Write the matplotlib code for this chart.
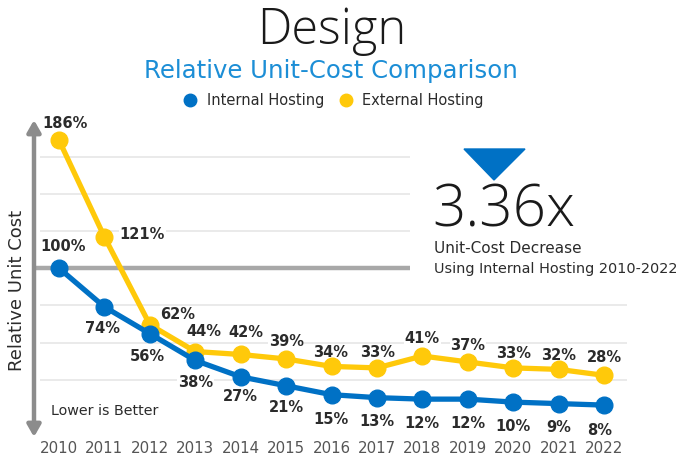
import matplotlib
matplotlib.use("Agg")
import matplotlib.pyplot as plt
from matplotlib.patches import Polygon

# data
years = list(range(2010, 2023))
internal = [100, 74, 56, 38, 27, 21, 15, 13, 12, 12, 10, 9, 8]
external = [186, 121, 62, 44, 42, 39, 34, 33, 41, 37, 33, 32, 28]
grid_short = [125, 150, 175]
grid_long = [25, 50, 75]

blue = "#0071C5"
yellow = "#FFC90A"
dark = "#2B2B2B"
W, H = 683, 459

def fx(px):
    return px / W

def fy(py):
    return 1 - py / H

fig = plt.figure(figsize=(6.83, 4.59), dpi=100)
ax = fig.add_axes([0, 0, 1, 1])
ax.set_xlim(2008.701, 2023.738)
ax.set_ylim(-28.23, 280.24)
ax.axis("off")

# grid
ax.hlines(grid_short, 2009.58, 2017.73, color="#E6E6E6", lw=1.2, zorder=0)
ax.hlines(grid_long, 2009.58, 2022.505, color="#E6E6E6", lw=1.2, zorder=0)
ax.hlines(100, 2009.45, 2017.73, color="#A8A8A8", lw=3.2, zorder=1)

# series
ax.plot(years, external, color=yellow, lw=3.8, marker="o", ms=12, zorder=3)
ax.plot(years, internal, color=blue, lw=3.8, marker="o", ms=12, zorder=4)

lab = dict(fontsize=10.5, fontweight="bold", color=dark, ha="center", va="center",
           bbox=dict(fc="white", ec="none", pad=0.5), zorder=2)

# yellow labels (offset in pixels)
ext_off = [(6, 17), (38, 2), (28, 10), (9, 20), (5, 22), (0, 17), (-1, 14), (1, 15),
           (0, 17), (0, 16), (0, 14), (0, 14), (0, 18)]
for x, v, (dx, dy) in zip(years, external, ext_off):
    ax.annotate(f"{v}%", (x, v), xytext=(dx, dy), textcoords="offset pixels", **lab)

int_off = [(4, 22), (-2, -22), (-2, -23), (0, -22), (0, -20), (0, -22), (-1, -25),
           (0, -24), (0, -24), (0, -24), (0, -24), (0, -24), (-4, -25)]
for x, v, (dx, dy) in zip(years, internal, int_off):
    ax.annotate(f"{v}%", (x, v), xytext=(dx, dy), textcoords="offset pixels", **lab)

# year labels
for x in years:
    ax.text(x, -21.5, str(x), fontsize=10.8, color="#555555", ha="center", va="center")

# vertical double arrow
ax.annotate("", xy=(fx(34), fy(120)), xytext=(fx(34), fy(437)), xycoords="figure fraction",
            textcoords="figure fraction",
            arrowprops=dict(arrowstyle="<|-|>,head_length=0.7,head_width=0.4",
                            color="#8C8C8C", lw=3.2, shrinkA=0, shrinkB=0))

fig.text(fx(17), fy(290), "Relative Unit Cost", rotation=90, fontsize=13,
         color=dark, ha="center", va="center")
fig.text(fx(51), fy(411), "Lower is Better", fontsize=10.3, color=dark, ha="left", va="center")

# titles and legend
fig.text(fx(332), fy(31), "Design", fontsize=35, fontweight="light", family="Open Sans",
         color="#1A1A1A", ha="center", va="center")
fig.text(fx(331), fy(71), "Relative Unit-Cost Comparison", fontsize=17.6, color="#1C8ED6",
         ha="center", va="center")
ax.plot([fx(190)], [fy(100)], marker="o", ms=9, color=blue, transform=fig.transFigure)
fig.text(fx(207), fy(100), "Internal Hosting", fontsize=10.5, color=dark, va="center")
ax.plot([fx(346)], [fy(100)], marker="o", ms=9, color=yellow, transform=fig.transFigure)
fig.text(fx(362), fy(100), "External Hosting", fontsize=10.5, color=dark, va="center")

# callout
tri = Polygon([(fx(464), fy(149)), (fx(525), fy(149)), (fx(494), fy(180))], closed=True,
              color=blue, transform=fig.transFigure)
fig.patches.append(tri)
fig.text(fx(432), fy(211), "3.36x", fontsize=42, fontweight="light", family="Open Sans",
         color="#1A1A1A", ha="left", va="center")
fig.text(fx(434), fy(249), "Unit-Cost Decrease", fontsize=11, color=dark, va="center")
fig.text(fx(434), fy(269), "Using Internal Hosting 2010-2022", fontsize=10.4, color=dark,
         va="center")

fig.savefig("out.png", dpi=100)
